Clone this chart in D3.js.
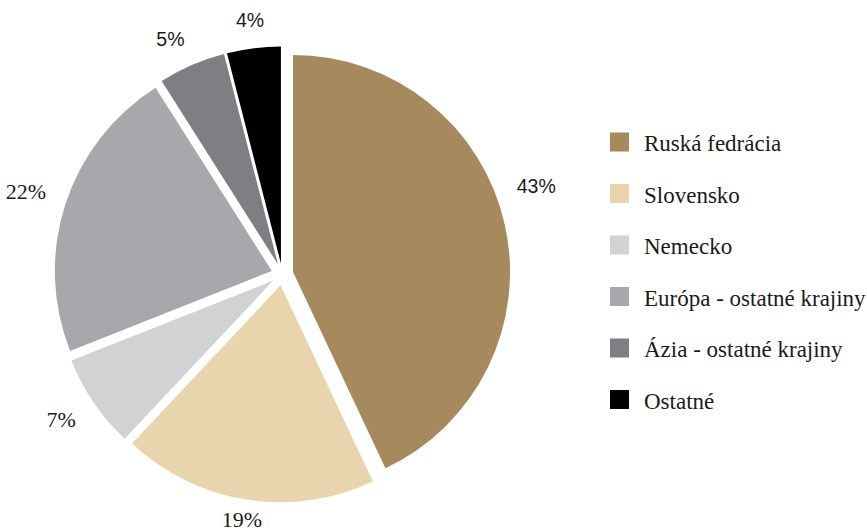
<!DOCTYPE html>
<html>
<head>
<meta charset="utf-8">
<script src="https://cdn.jsdelivr.net/npm/d3@7/dist/d3.min.js"></script>
<style>
  html, body { margin: 0; padding: 0; background: #ffffff; }
  svg { display: block; }
</style>
</head>
<body>
<svg id="chart" width="867" height="531"></svg>
<script>
// Podiel krajín (v %)
const categories = ["Ruská fedrácia", "Slovensko", "Nemecko", "Európa - ostatné krajiny", "Ázia - ostatné krajiny", "Ostatné"];
const shares = [43, 19, 7, 22, 5, 4];
const labels = ["43%", "19%", "7%", "22%", "5%", "4%"];

const palette = ["#a68a5e", "#e9d5ad", "#d1d2d4", "#a7a8ab", "#7e7f83", "#000000"];
const serif = "'Liberation Serif', 'Times New Roman', serif";
const sans = "'Liberation Sans', Arial, sans-serif";
const labelFaces = [sans, serif, serif, serif, sans, sans];

const svg = d3.select("#chart");
const W = 867, H = 531;
const cx = 282.3, cy = 274.4;
const R = 217;          // outer radius
const explode = 11;     // offset of every slice along its bisector
const labelBase = 248;  // distance from centre to the nearest edge of a label

const color = d3.scaleOrdinal().domain(categories).range(palette);

const pie = d3.pie().sort(null).value(d => d.value).startAngle(0).endAngle(2 * Math.PI);
const arcs = pie(categories.map((c, i) => ({ name: c, value: shares[i], label: labels[i], face: labelFaces[i] })));
const arc = d3.arc().innerRadius(0).outerRadius(R);

const g = svg.append("g").attr("transform", `translate(${cx},${cy})`);

g.selectAll("path.slice")
  .data(arcs)
  .join("path")
  .attr("class", "slice")
  .attr("fill", d => color(d.data.name))
  .attr("transform", d => {
    const a = (d.startAngle + d.endAngle) / 2;
    return `translate(${explode * Math.sin(a)},${-explode * Math.cos(a)})`;
  })
  .attr("d", arc);

// percentage labels placed outside each slice, along its bisector,
// kept inside the drawing area
const labelTurn = [-6.6, 0, 1, 0, -2, 0]; // degrees
g.selectAll("text.pct")
  .data(arcs)
  .join("text")
  .attr("class", "pct")
  .attr("text-anchor", "middle")
  .attr("fill", "#1a1a1a")
  .style("font-family", d => d.data.face)
  .style("font-size", d => d.data.face === sans ? "19.5px" : "22px")
  .text(d => d.data.label)
  .each(function(d, i) {
    const a = (d.startAngle + d.endAngle) / 2 + labelTurn[i] * Math.PI / 180;
    const bb = this.getBBox();
    const hw = bb.width / 2, hh = 7.5;
    const sx = Math.sin(a), sy = -Math.cos(a);
    const dist = labelBase + hw * Math.abs(sx) + hh * Math.abs(sy);
    const baseline = Math.min(dist * sy + hh, (H - 4) - cy);
    d3.select(this)
      .attr("x", dist * sx)
      .attr("y", baseline);
  });

// legend
const legend = svg.append("g").attr("transform", "translate(610,132.5)");
const row = d3.scaleBand().domain(categories).range([0, 51.5 * categories.length]).paddingInner(0);
const item = legend.selectAll("g.item")
  .data(categories)
  .join("g")
  .attr("class", "item")
  .attr("transform", d => `translate(0,${row(d)})`);
item.append("rect")
  .attr("width", 19).attr("height", 19)
  .attr("fill", d => color(d));
item.append("text")
  .attr("x", 34).attr("y", 18.5)
  .attr("fill", "#1a1a1a")
  .style("font-family", serif)
  .style("font-size", "23px")
  .text(d => d);
</script>
</body>
</html>
